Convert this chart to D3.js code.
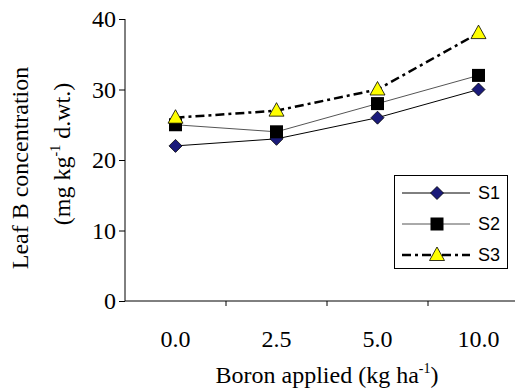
<!DOCTYPE html>
<html>
<head>
<meta charset="utf-8">
<script src="https://d3js.org/d3.v7.min.js"></script>
<style>
  body { margin: 0; background: #fff; }
  svg { display: block; }
</style>
</head>
<body>
<svg id="chart" width="515" height="390"></svg>
<script>
// chart values
const categories = ["0.0", "2.5", "5.0", "10.0"];
const s1 = [22, 23, 26, 30];
const s2 = [25, 24, 28, 32];
const s3 = [26, 27, 30, 38];
const yTicks = [0, 10, 20, 30, 40];

const series = [
  { name: "S1", values: s1, stroke: "#000", width: 1, dash: null, marker: "diamond" },
  { name: "S2", values: s2, stroke: "#555", width: 1, dash: null, marker: "square" },
  { name: "S3", values: s3, stroke: "#000", width: 2.5, dash: "9,4,3,4", marker: "triangle" },
];

const svg = d3.select("#chart");
const serif = "'Liberation Serif', 'Times New Roman', serif";

const x = d3.scaleBand().domain(categories).range([125, 529]);
const y = d3.scaleLinear().domain([0, 40]).range([301, 19]);

// y axis
const yAxis = svg.append("g")
  .attr("transform", "translate(125,0)")
  .call(d3.axisLeft(y).tickValues(yTicks).tickSize(6).tickPadding(3));
yAxis.select(".domain").attr("stroke", "#000").attr("d", "M0,19V301");
yAxis.selectAll("text").attr("font-family", serif).attr("font-size", 24).attr("fill", "#000");

// x axis
const xAxis = svg.append("g")
  .attr("transform", "translate(0,301)")
  .call(d3.axisBottom(x).tickSize(0).tickPadding(29));
xAxis.select(".domain").attr("stroke", "#000").attr("d", "M125,0H529");
xAxis.selectAll("text").attr("font-family", serif).attr("font-size", 24).attr("fill", "#000");
// tick marks between categories
xAxis.selectAll(".sep")
  .data(categories.slice(1))
  .join("line")
  .attr("class", "sep")
  .attr("x1", d => x(d)).attr("x2", d => x(d))
  .attr("y1", 0).attr("y2", 5)
  .attr("stroke", "#000");

// titles
svg.append("text")
  .attr("x", 327).attr("y", 383)
  .attr("text-anchor", "middle")
  .attr("font-family", serif).attr("font-size", 24)
  .html('Boron applied (kg ha<tspan dy="-10" font-size="14">-1</tspan><tspan dy="10">)</tspan>');

svg.append("text")
  .attr("transform", "translate(28,168) rotate(-90)")
  .attr("text-anchor", "middle")
  .attr("font-family", serif).attr("font-size", 24)
  .text("Leaf B concentration");

svg.append("text")
  .attr("transform", "translate(70,154) rotate(-90)")
  .attr("text-anchor", "middle")
  .attr("font-family", serif).attr("font-size", 24)
  .html('(mg kg<tspan dy="-10" font-size="14">-1</tspan><tspan dy="10">  d.wt.)</tspan>');

const cx = d => x(d) + x.bandwidth() / 2;

function drawMarker(g, type) {
  if (type === "diamond") {
    g.append("path").attr("d", "M0,-6.5L6.5,0L0,6.5L-6.5,0Z")
      .attr("fill", "#1a1a7a").attr("stroke", "#000").attr("stroke-width", 0.8);
  } else if (type === "square") {
    g.append("rect").attr("x", -6.5).attr("y", -6.5).attr("width", 13).attr("height", 13)
      .attr("fill", "#000");
  } else {
    g.append("path").attr("d", "M0,-8L7.5,5.5L-7.5,5.5Z")
      .attr("fill", "#ffff00").attr("stroke", "#000").attr("stroke-width", 0.8);
  }
}

const line = d3.line().x((d, i) => cx(categories[i])).y(d => y(d));

series.forEach(s => {
  svg.append("path")
    .datum(s.values)
    .attr("d", line)
    .attr("fill", "none")
    .attr("stroke", s.stroke)
    .attr("stroke-width", s.width)
    .attr("stroke-dasharray", s.dash);
});

series.forEach(s => {
  s.values.forEach((v, i) => {
    const g = svg.append("g").attr("transform", `translate(${cx(categories[i])},${y(v)})`);
    drawMarker(g, s.marker);
  });
});

// legend
const legend = svg.append("g");
legend.append("rect")
  .attr("x", 394.5).attr("y", 175.5).attr("width", 113).attr("height", 93)
  .attr("fill", "#fff").attr("stroke", "#000").attr("stroke-width", 1);

series.forEach((s, i) => {
  const ly = 193 + i * 31;
  legend.append("line")
    .attr("x1", 402).attr("x2", 470).attr("y1", ly).attr("y2", ly)
    .attr("stroke", s.stroke).attr("stroke-width", s.width)
    .attr("stroke-dasharray", s.dash);
  drawMarker(legend.append("g").attr("transform", `translate(437,${ly})`), s.marker);
  legend.append("text")
    .attr("x", 478).attr("y", ly).attr("dy", "0.36em")
    .attr("font-family", "'Liberation Sans', Arial, sans-serif").attr("font-size", 18)
    .text(s.name);
});
</script>
</body>
</html>
